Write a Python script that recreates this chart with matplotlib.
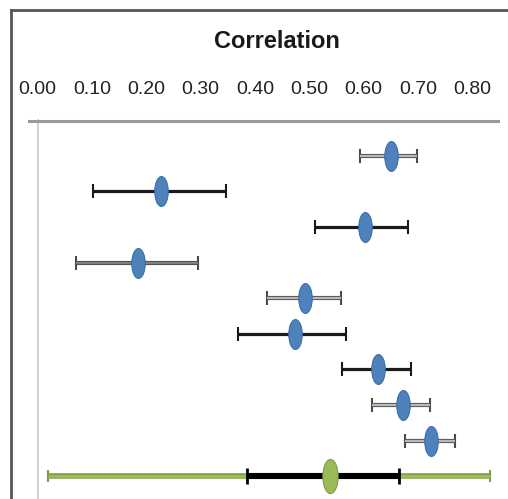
import matplotlib
matplotlib.use("Agg")
import matplotlib.pyplot as plt
import numpy as np
from matplotlib.path import Path
from matplotlib.lines import Line2D

plt.rcParams['font.family'] = ['Liberation Sans', 'DejaVu Sans']

# study estimates (top to bottom) with 95% CI
estimate = [0.650, 0.228, 0.603, 0.185, 0.493, 0.473, 0.627, 0.673, 0.725]
ci_low = [0.593, 0.103, 0.511, 0.070, 0.423, 0.369, 0.561, 0.615, 0.676]
ci_high = [0.699, 0.347, 0.682, 0.295, 0.559, 0.567, 0.687, 0.723, 0.769]

# pooled estimate, its CI and prediction interval
pooled = 0.539
pooled_ci = [0.386, 0.665]
pooled_pi = [0.019, 0.833]

tick_values = [0.0, 0.1, 0.2, 0.3, 0.4, 0.5, 0.6, 0.7, 0.8]
tick_labels = ['0.00', '0.10', '0.20', '0.30', '0.40', '0.50', '0.60', '0.70', '0.80']

# whisker style per row
row_style = ['gray', 'black', 'black', 'dark', 'gray', 'black', 'black', 'gray', 'gray']

W, H = 508, 499
fig = plt.figure(figsize=(W / 100, H / 100), dpi=100)

# axes placed in pixel units
left_px, right_px, top_px = 37.5, 498, 120
ax = fig.add_axes([left_px / W, 0, (right_px - left_px) / W, (H - top_px) / H])

# map of value -> pixel taken from the label positions
x0_px, px_per_unit = 34.4, 547.0
ax.set_xlim((left_px - x0_px) / px_per_unit, (right_px - x0_px) / px_per_unit)
ax.set_ylim(10.635, 0)

# ellipse marker
circ = Path.unit_circle()
ellipse = Path(circ.vertices * np.array([0.45, 1.0]), circ.codes)

rows = np.arange(1, len(estimate) + 1)
for i, y in enumerate(rows):
    e = estimate[i]
    xerr = [[e - ci_low[i]], [ci_high[i] - e]]
    if row_style[i] == 'black':
        ax.errorbar([e], [y], xerr=xerr, fmt='none', ecolor='#1a1a1a',
                    elinewidth=2.3, capsize=4.7, capthick=1.5, zorder=2)
    else:
        inner = '#b8b8b8' if row_style[i] == 'gray' else '#808080'
        ax.errorbar([e], [y], xerr=xerr, fmt='none', ecolor='#4a4a4a',
                    elinewidth=3.0, capsize=4.7, capthick=1.5, zorder=2)
        ax.errorbar([e], [y], xerr=xerr, fmt='none', ecolor=inner,
                    elinewidth=1.7, capsize=0, zorder=2.5)
    ax.plot([e], [y], marker=ellipse, markersize=21.5, color='#4F81BD',
            markeredgecolor='#3C6DA6', markeredgewidth=0.8, zorder=3)

# pooled row
yp = len(estimate) + 1
ax.errorbar([pooled], [yp], xerr=[[pooled - pooled_pi[0]], [pooled_pi[1] - pooled]],
            fmt='none', ecolor='#7E9B45', elinewidth=4.0, capsize=4.3, capthick=1.5, zorder=2)
ax.errorbar([pooled], [yp], xerr=[[pooled - pooled_pi[0]], [pooled_pi[1] - pooled]],
            fmt='none', ecolor='#9BBB59', elinewidth=2.4, capsize=0, zorder=2.2)
ax.errorbar([pooled], [yp], xerr=[[pooled - pooled_ci[0]], [pooled_ci[1] - pooled]],
            fmt='none', ecolor='#000000', elinewidth=4.4, capsize=6.0, capthick=2.0, zorder=2.5)
ax.plot([pooled], [yp], marker=ellipse, markersize=24.5, color='#9BBB59',
        markeredgecolor='#7E9B45', markeredgewidth=0.8, zorder=3)

# axis styling
ax.xaxis.tick_top()
ax.set_xticks(tick_values)
ax.set_xticklabels(tick_labels)
ax.tick_params(axis='x', length=0, pad=16, labelsize=14, labelcolor='#222222')
ax.set_yticks([])
for s in ['right', 'bottom', 'top']:
    ax.spines[s].set_visible(False)
ax.spines['left'].set_color('#c8c8c8')
ax.spines['left'].set_linewidth(1.2)

# gray line across the top of the plot area
fig.add_artist(Line2D([29 / W, 498 / W], [1 - 121 / H, 1 - 121 / H],
                      color='#9a9a9a', lw=2.2, transform=fig.transFigure))

# outer frame (cropped on right and bottom)
fig.add_artist(Line2D([11 / W, 11 / W], [0, 1 - 10 / H], color='#555555', lw=2.0,
                      transform=fig.transFigure))
fig.add_artist(Line2D([11 / W, 1], [1 - 10 / H, 1 - 10 / H], color='#555555', lw=2.0,
                      transform=fig.transFigure))

fig.text(277 / W, 1 - 42 / H, 'Correlation', ha='center', va='center',
         fontsize=17, fontweight='bold', color='#1a1a1a')

fig.savefig('out.png', dpi=100)
